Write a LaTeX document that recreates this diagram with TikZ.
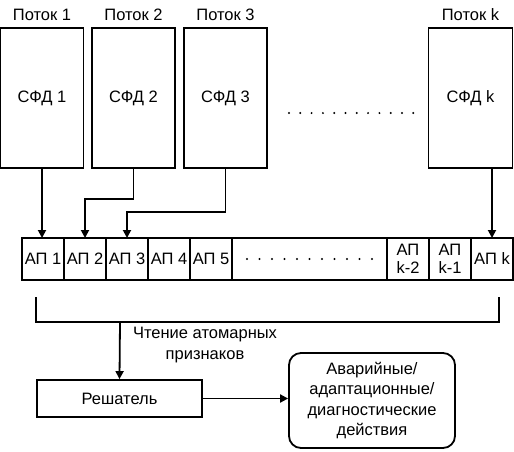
\documentclass[tikz,border=0pt]{standalone}
\usepackage{fontspec}
\setmainfont{Liberation Sans}
\usetikzlibrary{positioning,arrows.meta}

\begin{document}
\begin{tikzpicture}[
			x=1pt, y=-1pt,
			font=\fontsize{16.5}{20.5}\selectfont,
			every node/.style={align=center},
			line width=1.8pt,
			>={Triangle[length=8pt,width=8pt]},
			sfd/.style={rectangle, draw, minimum width=83pt, minimum height=140pt, inner sep=0pt},
			apcell/.style={rectangle, draw, minimum width=42pt, minimum height=42pt,
				inner sep=0pt, outer sep=0pt},
			solver/.style={rectangle, draw, minimum width=165pt, minimum height=37pt},
			act/.style={rectangle, rounded corners=12pt, draw, minimum width=166pt, minimum height=95pt},
			]
			\useasboundingbox (0,0) rectangle (514,451);
			
			% streams and their SFD blocks
			\node (flow1) at (42,15) {Поток 1};
			\node (flow2) at (133.5,15) {Поток 2};
			\node (flow3) at (225.5,15) {Поток 3};
			\node (flowk) at (470.5,15) {Поток k};
			\node[sfd] (sfd1) at (42,98) {СФД 1};
			\node[sfd] (sfd2) at (133.5,98) {СФД 2};
			\node[sfd] (sfd3) at (225.5,98) {СФД 3};
			\node[sfd, minimum width=84pt] (sfdk) at (470.5,98) {СФД k};
			\foreach \i in {0,...,11}
				\fill (289+\i*11.3,113) circle (1.1pt);
			
			% row of atomic features
			\node[apcell] (ap1) at (43,259) {АП 1};
			\node[apcell, right=0pt of ap1] (ap2) {АП 2};
			\node[apcell, right=0pt of ap2] (ap3) {АП 3};
			\node[apcell, right=0pt of ap3] (ap4) {АП 4};
			\node[apcell, right=0pt of ap4] (ap5) {АП 5};
			\node[apcell, right=0pt of ap5, minimum width=155pt] (apdots) {};
			\node[apcell, right=0pt of apdots, font=\fontsize{16.5}{18}\selectfont] (apk2) {АП\\k-2};
			\node[apcell, right=0pt of apk2, font=\fontsize{16.5}{18}\selectfont] (apk1) {АП\\k-1};
			\node[apcell, right=0pt of apk1] (apk) {АП k};
			\foreach \i in {0,...,10}
				\fill ([xshift=15pt+\i*12.5pt]apdots.west) circle (1.1pt);
			
			\draw[->] (sfd1.south) -- (sfd1.south |- ap1.north);
			\draw[->] (sfd2.south) -- ++(0,30) -| (ap2.north);
			\draw[->] (sfd3.south) -- ++(0,43) -| (ap3.north);
			\draw[->] (apk.north |- sfdk.south) -- (apk.north);
			
			% reading the features
			\coordinate (brl) at (36,297);
			\coordinate (brr) at (499,297);
			\coordinate (brm) at (120,322);
			\draw (brl) -- (brl |- brm) -- (brr |- brm) -- (brr);
			
			\node[solver] (solver) at (119.5,398.5) {Решатель};
			\node[act] (act) at (372,400.5) {Аварийные/\\адаптационные/\\диагностические\\действия};
			\node (read) at (205,345) {Чтение атомарных\\признаков};
			
			\draw[->] (brm) -- (solver.north);
			\draw[->] (solver.east) -- (solver.east -| act.west);
			
		\end{tikzpicture}
\end{document}
